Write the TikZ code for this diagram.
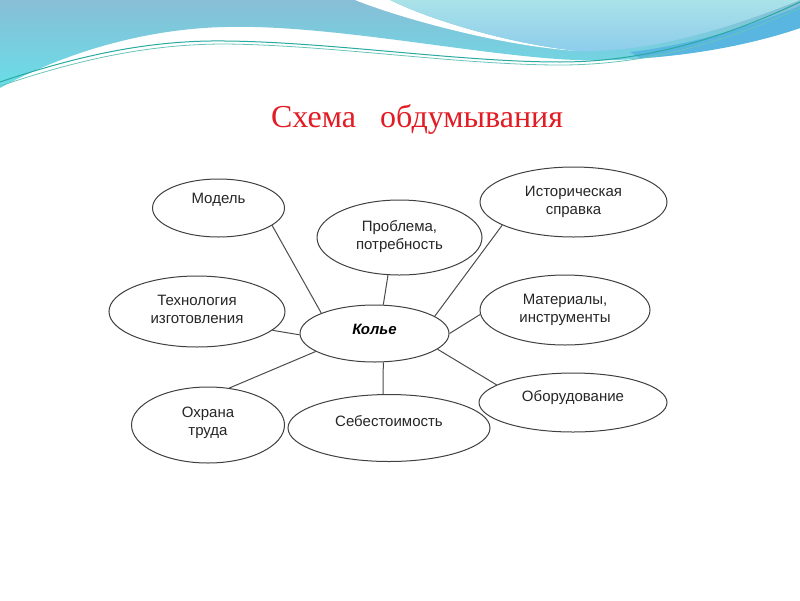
\documentclass[tikz,border=0pt]{standalone}
\usepackage{fontspec}
\setmainfont{Liberation Serif}
\setsansfont{Liberation Sans}
\usetikzlibrary{shapes.geometric}
\definecolor{titlered}{RGB}{226,28,36}
\definecolor{wavetop}{RGB}{136,190,214}
\definecolor{wavelow}{RGB}{104,222,232}
\definecolor{palewave}{RGB}{170,226,232}
\definecolor{palelow}{RGB}{140,204,236}
\definecolor{deepwave}{RGB}{88,182,224}
\definecolor{wireteal}{RGB}{40,170,160}

\begin{document}
\begin{tikzpicture}[x=1pt,y=-1pt,
  bubble/.style={ellipse, draw=black!75, line width=1pt, fill=white, inner sep=0pt},
  btext/.style={font=\sffamily\fontsize{15}{18}\selectfont, align=center, text=black!85, inner sep=0pt},
  spoke/.style={draw=black!70, line width=1pt}]
\useasboundingbox (0,0) rectangle (800,600);
\fill[white] (0,0) rectangle (800,600);
% waves on top
\shade[top color=wavetop, bottom color=wavelow] (0,0) -- (800,0) -- (800,28) .. controls (740,48) and (650,63) .. (575,60) .. controls (480,56) and (330,24) .. (225,27) .. controls (140,29) and (60,55) .. (0,88) -- cycle;
\fill[deepwave] (630,52) .. controls (700,44) and (760,22) .. (800,6) -- (800,28) .. controls (760,42) and (700,55) .. (640,58) -- cycle;
\fill[white] (355,0) .. controls (400,18) and (500,46) .. (578,51) .. controls (510,44) and (430,20) .. (390,0) -- cycle;
\shade[top color=palewave, bottom color=palelow] (390,0) .. controls (430,20) and (510,44) .. (578,51) .. controls (650,53) and (730,28) .. (800,0) -- cycle;
\draw[wireteal, line width=1pt] (0,82) .. controls (80,55) and (150,40) .. (225,41) .. controls (330,42) and (460,62) .. (560,62) .. controls (650,62) and (730,35) .. (800,2);
\draw[wireteal!70, line width=0.8pt] (0,86) .. controls (80,59) and (150,44) .. (225,44) .. controls (330,45) and (460,65) .. (560,65) .. controls (650,65) and (730,40) .. (800,8);

\node[font=\fontsize{32}{38}\selectfont, text=titlered, anchor=base] (title) at (417,127) {Схема\hspace{24pt}обдумывания};

\node[bubble, minimum width=132, minimum height=58] (model) at (218.5,208) {};
\node[bubble, minimum width=165, minimum height=75] (problem) at (399.5,237.5) {};
\node[bubble, minimum width=187, minimum height=70] (history) at (573.5,202) {};
\node[bubble, minimum width=176, minimum height=71] (tech) at (197,311.5) {};
\node[bubble, minimum width=149, minimum height=57] (kolie) at (374.5,333.5) {};
\node[bubble, minimum width=170, minimum height=70] (material) at (565,310) {};
\node[bubble, minimum width=153, minimum height=76] (safety) at (208,425) {};
\node[bubble, minimum width=202, minimum height=67] (cost) at (389,428) {};
\node[bubble, minimum width=188, minimum height=59] (equip) at (573,402.5) {};

\node[btext] (modeltext) at ([yshift=8]model.center) {Модель};
\node[btext] (problemtext) at ([yshift=1]problem.center) {Проблема,\\потребность};
\node[btext] (historytext) at ([yshift=0]history.center) {Историческая\\справка};
\node[btext] (techtext) at ([yshift=2]tech.center) {Технология\\изготовления};
\node[btext, font=\sffamily\bfseries\itshape\fontsize{15}{18}\selectfont, text=black] (kolietext) at ([yshift=4.5]kolie.center) {Колье};
\node[btext] (materialtext) at ([yshift=0]material.center) {Материалы,\\инструменты};
\node[btext] (safetytext) at ([yshift=2.5]safety.center) {Охрана\\труда};
\node[btext] (costtext) at ([yshift=7]cost.center) {Себестоимость};
\node[btext] (equiptext) at ([yshift=4.5]equip.center) {Оборудование};

\draw[spoke] (model.-18) -- (kolie.159);
\draw[spoke] (problem.-107) -- (kolie.73);
\draw[spoke] (history.198) -- (kolie.16);
\draw[spoke] (tech.-14) -- (kolie.181);
\draw[spoke] (material.183) -- (kolie.0);
\draw[spoke] (safety.60) -- (kolie.197);
\draw[spoke] (cost.100) -- (kolie.-73);
\draw[spoke] (equip.167) -- (kolie.-14);
\end{tikzpicture}
\end{document}
